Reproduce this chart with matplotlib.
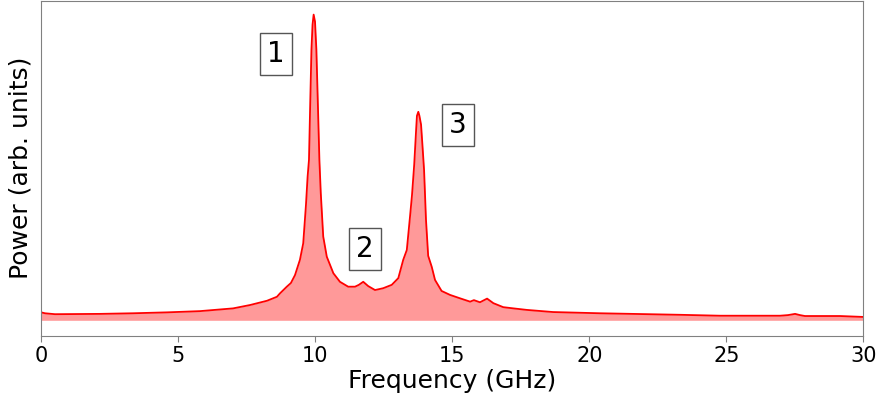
import matplotlib
matplotlib.use("Agg")
import matplotlib.pyplot as plt

# Frequency (GHz) and power (arb. units)
freq = [0.00, 0.135, 0.50, 2.14, 3.35, 4.59, 5.79, 7.00, 7.62, 8.24, 8.60, 8.71,
        8.96, 9.11, 9.26, 9.44, 9.56, 9.66, 9.72, 9.77, 9.81, 9.86, 9.90, 9.94,
        9.99, 10.04, 10.10, 10.15, 10.20, 10.29, 10.42, 10.66, 10.90, 11.20,
        11.45, 11.59, 11.75, 11.93, 12.18, 12.48, 12.79, 13.03, 13.21, 13.34,
        13.46, 13.53, 13.61, 13.68, 13.71, 13.76, 13.80, 13.86, 13.91, 13.97,
        14.04, 14.12, 14.25, 14.37, 14.61, 14.92, 15.28, 15.65, 15.79, 16.01,
        16.27, 16.50, 16.86, 17.23, 17.72, 18.68, 20.39, 23.31, 24.77, 26.96,
        27.25, 27.51, 27.69, 27.87, 29.15, 30.00]
power = [0.026, 0.023, 0.020, 0.021, 0.023, 0.026, 0.030, 0.039, 0.050, 0.064, 0.077, 0.088,
         0.110, 0.122, 0.148, 0.198, 0.252, 0.378, 0.470, 0.525, 0.689, 0.885, 0.967, 1.000,
         0.977, 0.885, 0.689, 0.525, 0.417, 0.274, 0.208, 0.154, 0.126, 0.110,
         0.110, 0.116, 0.126, 0.112, 0.099, 0.105, 0.116, 0.138, 0.198, 0.230,
         0.342, 0.410, 0.509, 0.623, 0.669, 0.682, 0.669, 0.640, 0.574, 0.492,
         0.329, 0.211, 0.175, 0.132, 0.096, 0.083, 0.072, 0.061, 0.066, 0.059,
         0.071, 0.056, 0.043, 0.039, 0.034, 0.027, 0.023, 0.018, 0.015, 0.015,
         0.017, 0.021, 0.017, 0.014, 0.014, 0.011]

peak_labels = ["1", "2", "3"]
label_freq = [8.57, 11.81, 15.21]
label_power = [0.872, 0.234, 0.640]

x_ticks = [0, 5, 10, 15, 20, 25, 30]

fig = plt.figure(figsize=(8.82, 3.98), dpi=100)
ax = fig.add_axes([0.0468, 0.1565, 0.932, 0.842])

ax.fill_between(freq, power, 0, color="red", alpha=0.4, linewidth=0)
ax.plot(freq, power, color="red", linewidth=1.3)

for lab, fx, py in zip(peak_labels, label_freq, label_power):
    ax.text(fx, py, lab, fontsize=20, ha="center", va="center",
            bbox=dict(boxstyle="square,pad=0.25", facecolor="white",
                      edgecolor="#555555", linewidth=1.0))

ax.set_xlim(0, 30)
ax.set_ylim(-0.0504, 1.0458)
ax.set_xticks(x_ticks)
ax.set_xticklabels([str(t) for t in x_ticks])
ax.set_yticks([])
ax.tick_params(axis="x", labelsize=15, color="#808080", length=4, direction="out")
for s in ax.spines.values():
    s.set_color("#808080")
ax.set_xlabel("Frequency (GHz)", fontsize=18, labelpad=2)
ax.set_ylabel("Power (arb. units)", fontsize=18, labelpad=6)

fig.savefig("out.png", dpi=100)
